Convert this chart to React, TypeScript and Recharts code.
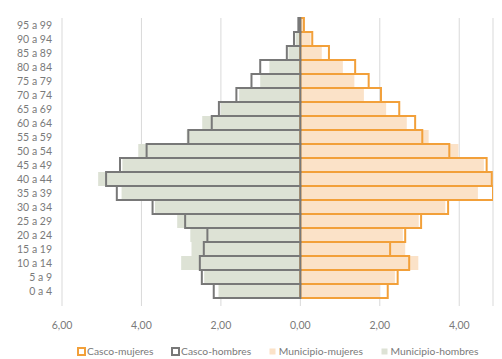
import React from 'react';
import { BarChart, Bar, XAxis, YAxis, CartesianGrid, Legend } from 'recharts';

const ageGroups = [
  '0 a 4', '5 a 9', '10 a 14', '15 a 19', '20 a 24', '25 a 29', '30 a 34', '35 a 39', '40 a 44', '45 a 49',
  '50 a 54', '55 a 59', '60 a 64', '65 a 69', '70 a 74', '75 a 79', '80 a 84', '85 a 89', '90 a 94', '95 a 99',
];
const cascoMujeres = [2.2, 2.45, 2.74, 2.26, 2.64, 3.04, 3.72, 4.95, 4.82, 4.69, 3.75, 3.07, 2.89, 2.49, 2.03, 1.72, 1.38, 0.72, 0.3, 0.09];
const cascoHombres = [2.18, 2.48, 2.53, 2.43, 2.34, 2.9, 3.72, 4.62, 4.89, 4.54, 3.87, 2.82, 2.23, 2.05, 1.61, 1.23, 1.01, 0.34, 0.16, 0.05];
const municipioMujeres = [2.0, 2.38, 2.97, 2.64, 2.58, 2.98, 3.65, 4.47, 4.8, 4.62, 3.98, 3.23, 2.68, 2.16, 1.6, 1.36, 1.07, 0.54, 0.26, 0.07];
const municipioHombres = [2.06, 2.42, 3.0, 2.74, 2.77, 3.1, 3.66, 4.5, 5.09, 4.48, 4.08, 2.86, 2.47, 2.0, 1.54, 1.01, 0.78, 0.3, 0.12, 0.04];
const xTicks = [-6, -4, -2, 0, 2, 4];

const ORANGE = '#F2A03A';
const GRAY = '#787878';
const PEACH = '#FBE2C8';
const SAGE = '#DDE2D5';
const TEXT = '#7a7a7a';
const FONT = 'Lato, "Open Sans", sans-serif';

const legendItems = [
  { name: 'Casco-mujeres', color: ORANGE, outline: true },
  { name: 'Casco-hombres', color: GRAY, outline: true },
  { name: 'Municipio-mujeres', color: PEACH, outline: false },
  { name: 'Municipio-hombres', color: SAGE, outline: false },
];

const data = ageGroups.map((age, i) => ({
  age,
  cascoMujeres: cascoMujeres[i],
  cascoHombres: -cascoHombres[i],
  municipioMujeres: municipioMujeres[i],
  municipioHombres: -municipioHombres[i],
}));

const fmt = (v: number) => Math.abs(v).toFixed(2).replace('.', ',');

const renderLegend = () => (
  <div
    style={{
      display: 'flex',
      justifyContent: 'center',
      alignItems: 'center',
      height: 14,
      fontFamily: FONT,
      fontSize: 10.3,
      color: TEXT,
      whiteSpace: 'nowrap',
    }}
  >
    {legendItems.map((it, idx) => (
      <div key={it.name} style={{ display: 'flex', alignItems: 'center', marginLeft: idx ? 17 : 0 }}>
        <svg width={9} height={9} style={{ marginRight: 1.5 }}>
          {it.outline ? (
            <rect x={1} y={1} width={7} height={7} fill="#fff" stroke={it.color} strokeWidth={2} />
          ) : (
            <rect x={1.5} y={1.5} width={6} height={6} fill={it.color} />
          )}
        </svg>
        <span>{it.name}</span>
      </div>
    ))}
  </div>
);

export default function App() {
  return (
    <div>
      <style>{`body{margin:0;overflow:hidden;background:#fff}`}</style>
      <BarChart
        width={502}
        height={359}
        data={data}
        layout="vertical"
        stackOffset="sign"
        barCategoryGap={0}
        margin={{ top: 18, right: 9, bottom: 1, left: 0 }}
      >
        <CartesianGrid horizontal={false} vertical stroke="#D9D9D9" />
        <XAxis
          type="number"
          domain={[-6, 4.85]}
          allowDataOverflow
          ticks={xTicks}
          tickFormatter={fmt}
          axisLine={false}
          tickLine={false}
          tickSize={0}
          tickMargin={16}
          height={38}
          tick={{ fill: TEXT, fontSize: 10.5, fontFamily: FONT }}
        />
        <YAxis
          type="category"
          dataKey="age"
          reversed
          width={62}
          padding={{ top: 0, bottom: 8 }}
          axisLine={false}
          tickLine={false}
          tickSize={0}
          tickMargin={10}
          interval={0}
          tick={{ fill: TEXT, fontSize: 10.5, fontFamily: FONT }}
        />
        <YAxis
          yAxisId="m"
          type="category"
          dataKey="age"
          reversed
          hide
          padding={{ top: 0, bottom: 8 }}
        />
        <Bar yAxisId="m" dataKey="municipioMujeres" name="Municipio-mujeres" stackId="m" fill={PEACH} isAnimationActive={false} />
        <Bar yAxisId="m" dataKey="municipioHombres" name="Municipio-hombres" stackId="m" fill={SAGE} isAnimationActive={false} />
        <Bar dataKey="cascoMujeres" name="Casco-mujeres" stackId="c" fill="none" stroke={ORANGE} strokeWidth={2} isAnimationActive={false} />
        <Bar dataKey="cascoHombres" name="Casco-hombres" stackId="c" fill="none" stroke={GRAY} strokeWidth={2} isAnimationActive={false} />
        <Legend verticalAlign="bottom" content={renderLegend} wrapperStyle={{ left: 62, width: 431 }} />
      </BarChart>
    </div>
  );
}
